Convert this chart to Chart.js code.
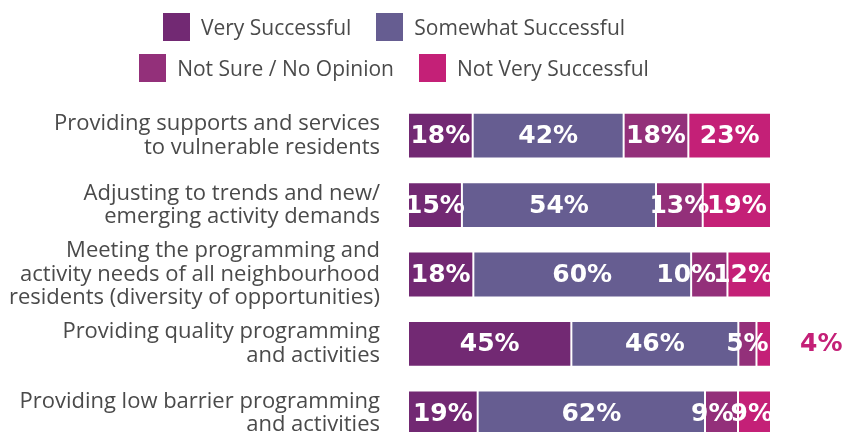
<!DOCTYPE html>
<html>
<head>
<meta charset="utf-8">
<script src="https://cdn.jsdelivr.net/npm/chart.js@4/dist/chart.umd.min.js"></script>
<style>
  html, body { margin: 0; padding: 0; background: #fff; overflow: hidden; }
  body { width: 844px; height: 432px; position: relative; font-family: "Open Sans", Lato, sans-serif; }
  #chart { position: absolute; left: 0; top: 0; }
  #legend {
    position: absolute; top: 13px; left: 104px; width: 580px;
    display: flex; flex-wrap: wrap; justify-content: center; row-gap: 13px; column-gap: 25px;
  }
  .item { display: flex; align-items: center; height: 28px; font-size: 21px; color: #4a4a4a; }
  .box { width: 27px; height: 28px; margin-right: 11px; }
</style>
</head>
<body>
<canvas id="chart" width="844" height="450"></canvas>
<div id="legend"></div>
<script>
const categories = [
  ['Providing supports and services', 'to vulnerable residents'],
  ['Adjusting to trends and new/', 'emerging activity demands'],
  ['Meeting the programming and', 'activity needs of all neighbourhood', 'residents (diversity of opportunities)'],
  ['Providing quality programming', 'and activities'],
  ['Providing low barrier programming', 'and activities']
];
const seriesNames = ['Very Successful', 'Somewhat Successful', 'Not Sure / No Opinion', 'Not Very Successful'];
const seriesColors = ['#722973', '#665D91', '#93307A', '#C42077'];

const verySuccessful     = [18, 15, 18, 45, 19];
const somewhatSuccessful = [42, 54, 60, 46, 62];
const notSure            = [18, 13, 10, 5, 9];
const notVerySuccessful  = [23, 19, 12, 4, 9];

const series = [verySuccessful, somewhatSuccessful, notSure, notVerySuccessful];

// rows add up to 99-101 because of rounding, so scale each row to a full bar
const rowTotals = categories.map((c, i) => series.reduce((s, arr) => s + arr[i], 0));

const datasets = series.map((arr, k) => ({
  label: seriesNames[k],
  data: arr.map((v, i) => v / rowTotals[i] * 100),
  raw: arr,
  backgroundColor: seriesColors[k],
  borderColor: 'rgba(255,255,255,0.85)',
  borderWidth: 1,
  borderSkipped: false,
  barPercentage: 1,
  categoryPercentage: 0.66
}));

// html legend, two rows like the original
const legend = document.getElementById('legend');
seriesNames.forEach((name, k) => {
  const item = document.createElement('div');
  item.className = 'item';
  item.innerHTML = '<span class="box" style="background:' + seriesColors[k] + '"></span>' + name;
  legend.appendChild(item);
});

const barLabels = {
  id: 'barLabels',
  afterDatasetsDraw(chart) {
    const ctx = chart.ctx;
    const area = chart.chartArea;
    ctx.save();
    ctx.font = 'bold 25px "DejaVu Sans", sans-serif';
    ctx.textBaseline = 'middle';
    categories.forEach((c, i) => {
      let limit = area.right + 2;
      for (let k = datasets.length - 1; k >= 0; k--) {
        const bar = chart.getDatasetMeta(k).data[i];
        const value = datasets[k].raw[i];
        const text = value + '%';
        const w = ctx.measureText(text).width;
        if (value < 5) {
          ctx.fillStyle = seriesColors[k];
          ctx.textAlign = 'left';
          ctx.fillText(text, area.right + 29, bar.y + 1);
          continue;
        }
        let cx = (bar.x + bar.base) / 2;
        if (cx + w / 2 > limit) cx = limit - w / 2;
        ctx.fillStyle = '#fff';
        ctx.textAlign = 'center';
        ctx.fillText(text, cx, bar.y + 1);
        limit = cx - w / 2 + 3;
      }
    });
    ctx.restore();
  }
};

new Chart(document.getElementById('chart'), {
  type: 'bar',
  data: { labels: categories, datasets: datasets },
  options: {
    indexAxis: 'y',
    responsive: false,
    animation: false,
    layout: { padding: { top: 101, right: 73, bottom: 2, left: 0 } },
    scales: {
      x: { display: false, stacked: true, min: 0, max: 100 },
      y: {
        stacked: true,
        grid: { display: false, drawTicks: false },
        border: { display: false },
        ticks: {
          autoSkip: false,
          padding: 28,
          color: '#4a4a4a',
          font: { family: '"Open Sans", Lato, sans-serif', size: 22, lineHeight: 1.07 }
        },
        afterFit(scale) {
          scale.width = 408;
          scale.paddingTop = 0;
          scale.paddingBottom = 0;
        }
      }
    },
    plugins: {
      legend: { display: false },
      tooltip: { enabled: false }
    }
  },
  plugins: [barLabels]
});
</script>
</body>
</html>
